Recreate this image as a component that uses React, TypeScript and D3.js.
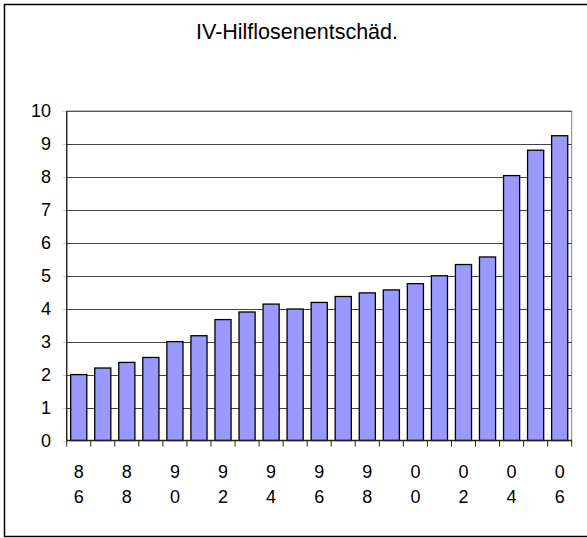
import React, { useEffect, useRef } from "react";
import * as d3 from "d3";

const title = "IV-Hilflosenentschäd.";
const years = [
  "86", "87", "88", "89", "90", "91", "92", "93", "94", "95", "96",
  "97", "98", "99", "00", "01", "02", "03", "04", "05", "06",
];
const values = [
  2.0, 2.2, 2.37, 2.52, 3.0, 3.18, 3.67, 3.9, 4.14, 3.99, 4.19,
  4.37, 4.48, 4.57, 4.76, 5.0, 5.34, 5.57, 8.04, 8.81, 9.25,
];
const yTicks = [0, 1, 2, 3, 4, 5, 6, 7, 8, 9, 10];
const labeledYears = ["86", "88", "90", "92", "94", "96", "98", "00", "02", "04", "06"];

const W = 587;
const H = 538;
const FONT = "Arial, 'Liberation Sans', sans-serif";

export default function App() {
  const ref = useRef<SVGSVGElement>(null);

  useEffect(() => {
    const svg = d3.select(ref.current);
    svg.selectAll("*").remove();

    const left = 66.7, right = 571.7, top = 111, bottom = 440.5;

    const x = d3.scaleBand<string>().domain(years).range([left, right]).paddingInner(0.33).paddingOuter(0.165);
    const xOuter = d3.scaleBand<string>().domain(years).range([left, right]);
    const y = d3.scaleLinear().domain([0, 10]).range([bottom, top]);

    svg.append("rect").attr("x", 0).attr("y", 0).attr("width", W).attr("height", H).attr("fill", "#fff");
    svg.append("rect").attr("x", 4.5).attr("y", 4.5).attr("width", W + 2).attr("height", 532)
      .attr("fill", "none").attr("stroke", "#000").attr("stroke-width", 1.5);

    svg.append("text").attr("x", 297).attr("y", 38.5).attr("text-anchor", "middle")
      .attr("font-family", FONT).attr("font-size", 21.5).attr("fill", "#000").text(title);

    // plot frame
    svg.append("rect").attr("x", left).attr("y", top).attr("width", right - left).attr("height", bottom - top)
      .attr("fill", "none").attr("stroke", "#808080").attr("stroke-width", 1);

    // gridlines
    svg.append("g").selectAll("line").data(yTicks.filter(t => t > 0)).join("line")
      .attr("x1", left).attr("x2", right)
      .attr("y1", d => Math.round(y(d)) + 0.5).attr("y2", d => Math.round(y(d)) + 0.5)
      .attr("stroke", d => (d === 10 ? "#555" : "#444")).attr("stroke-width", 1);

    // y labels
    svg.append("g").selectAll("text").data(yTicks).join("text")
      .attr("x", 51).attr("y", d => y(d)).attr("dy", "0.36em").attr("text-anchor", "end")
      .attr("font-family", FONT).attr("font-size", 18).attr("fill", "#000").text(d => String(d));

    // y ticks (faint)
    svg.append("g").selectAll("line").data(yTicks).join("line")
      .attr("x1", left - 4).attr("x2", left)
      .attr("y1", d => Math.round(y(d)) + 0.5).attr("y2", d => Math.round(y(d)) + 0.5)
      .attr("stroke", "#ccc").attr("stroke-width", 1);

    // bars
    svg.append("g").selectAll("rect").data(values).join("rect")
      .attr("x", (d, i) => x(years[i])!)
      .attr("width", x.bandwidth())
      .attr("y", d => y(d))
      .attr("height", d => bottom - y(d))
      .attr("fill", "#9999FF").attr("stroke", "#000").attr("stroke-width", 1.3);

    // y axis line
    svg.append("line").attr("x1", left).attr("x2", left).attr("y1", top).attr("y2", bottom)
      .attr("stroke", "#222").attr("stroke-width", 1.3);

    // x axis line
    svg.append("line").attr("x1", left).attr("x2", right).attr("y1", bottom).attr("y2", bottom)
      .attr("stroke", "#222").attr("stroke-width", 1.3);

    // x ticks at band boundaries
    const bounds = years.map(yr => xOuter(yr)!).concat([right]);
    svg.append("g").selectAll("line").data(bounds).join("line")
      .attr("x1", d => d).attr("x2", d => d).attr("y1", bottom).attr("y2", bottom + 6)
      .attr("stroke", "#222").attr("stroke-width", 1);

    // x labels (stacked digits)
    const lab = svg.append("g").selectAll("g").data(labeledYears).join("g")
      .attr("transform", d => `translate(${xOuter(d)! + xOuter.bandwidth() / 2},0)`);
    lab.append("text").attr("y", 477.5).attr("text-anchor", "middle")
      .attr("font-family", FONT).attr("font-size", 18).attr("fill", "#000").text(d => d[0]);
    lab.append("text").attr("y", 502.5).attr("text-anchor", "middle")
      .attr("font-family", FONT).attr("font-size", 18).attr("fill", "#000").text(d => d[1]);
  }, []);

  return (
    <svg ref={ref} width={W} height={H}
      style={{ position: "absolute", left: 0, top: 0, display: "block" }} />
  );
}
